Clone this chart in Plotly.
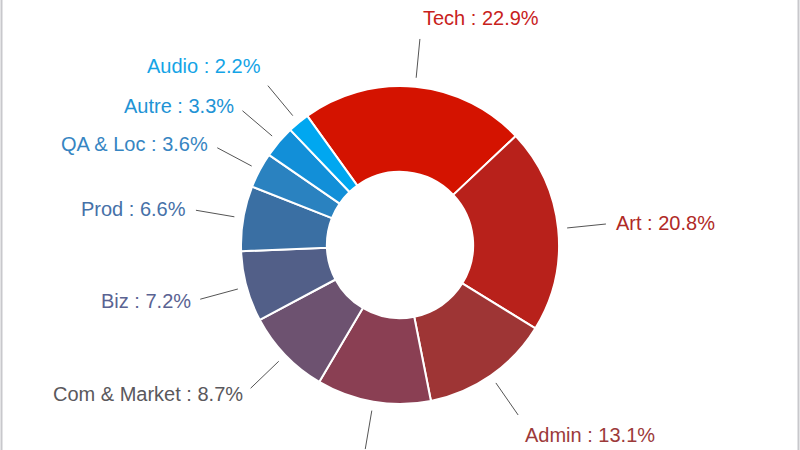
import math
import plotly.graph_objects as go

# ---- data ----
categories = ["Tech", "Art", "Admin", "Game Design", "Com & Market", "Biz", "Prod",
              "QA & Loc", "Autre", "Audio"]
shares = [22.9, 20.8, 13.1, 11.6, 8.7, 7.2, 6.6, 3.6, 3.3, 2.2]
slice_colors = ["#d41300", "#b8211b", "#9e3535", "#8a3f53", "#6d5270", "#525f88",
                "#3a6fa3", "#2a82c0", "#128fd8", "#00a7f0"]
label_colors = ["#c8221c", "#b02a26", "#9c3a3a", "#86425a", "#5a585c", "#5a6392",
                "#4671a8", "#3685c2", "#2193d5", "#14a4e6"]

# ---- geometry ----
W, H = 800, 450
CX, CY = 400, 245
R = 159
HOLE = 0.46
ROT = -35.7  # start angle of first slice (deg, clockwise from 12 o'clock)
FONT = "Liberation Sans, Arial, sans-serif"
FS = 20

fig = go.Figure(go.Pie(
    labels=categories,
    values=shares,
    sort=False,
    direction="clockwise",
    rotation=ROT,
    hole=HOLE,
    marker=dict(colors=slice_colors, line=dict(color="white", width=2)),
    textinfo="none",
    hoverinfo="label+percent",
    showlegend=False,
    domain=dict(x=[0, 1], y=[1 - (CY + R) / H, 1 - (CY - R) / H]),
))

def to_paper(px, py):
    return px / W, 1 - py / H

total = sum(shares)
start = ROT
shapes = []
annotations = []
for name, v, col in zip(categories, shares, label_colors):
    span = v / total * 360
    mid = math.radians(start + span / 2)
    start += span
    dx, dy = math.sin(mid), -math.cos(mid)
    x0, y0 = CX + 168 * dx, CY + 168 * dy
    x1, y1 = CX + 207 * dx, CY + 207 * dy
    ax0, ay0 = to_paper(x0, y0)
    ax1, ay1 = to_paper(x1, y1)
    shapes.append(dict(type="line", xref="paper", yref="paper", x0=ax0, y0=ay0,
                       x1=ax1, y1=ay1, line=dict(color="#555555", width=1)))
    tx, ty = x1 + 8 * dx, y1 + 8 * dy
    if ty > H:
        # label lies below the visible canvas (cut off in the reference)
        continue
    xa = "left" if dx >= 0 else "right"
    if dy < -0.73:
        ya = "bottom"
    elif dy > 0.73:
        ya = "top"
    else:
        ya = "middle"
    px, py = to_paper(tx, ty)
    annotations.append(dict(x=px, y=py, xref="paper", yref="paper", xanchor=xa, yanchor=ya,
                            text=f"{name} : {v:.1f}%", showarrow=False,
                            font=dict(family=FONT, size=FS, color=col)))

# thin grey frame lines at the left and right edges
for xe in (1.5 / W, 1 - 1.5 / W):
    shapes.append(dict(type="line", xref="paper", yref="paper", x0=xe, x1=xe, y0=0, y1=1,
                       line=dict(color="#c8c8cc", width=2)))

fig.update_layout(
    width=W, height=H,
    margin=dict(l=0, r=0, t=0, b=0),
    paper_bgcolor="white", plot_bgcolor="white",
    shapes=shapes, annotations=annotations,
    font=dict(family=FONT),
)

fig.write_html("out.html")
